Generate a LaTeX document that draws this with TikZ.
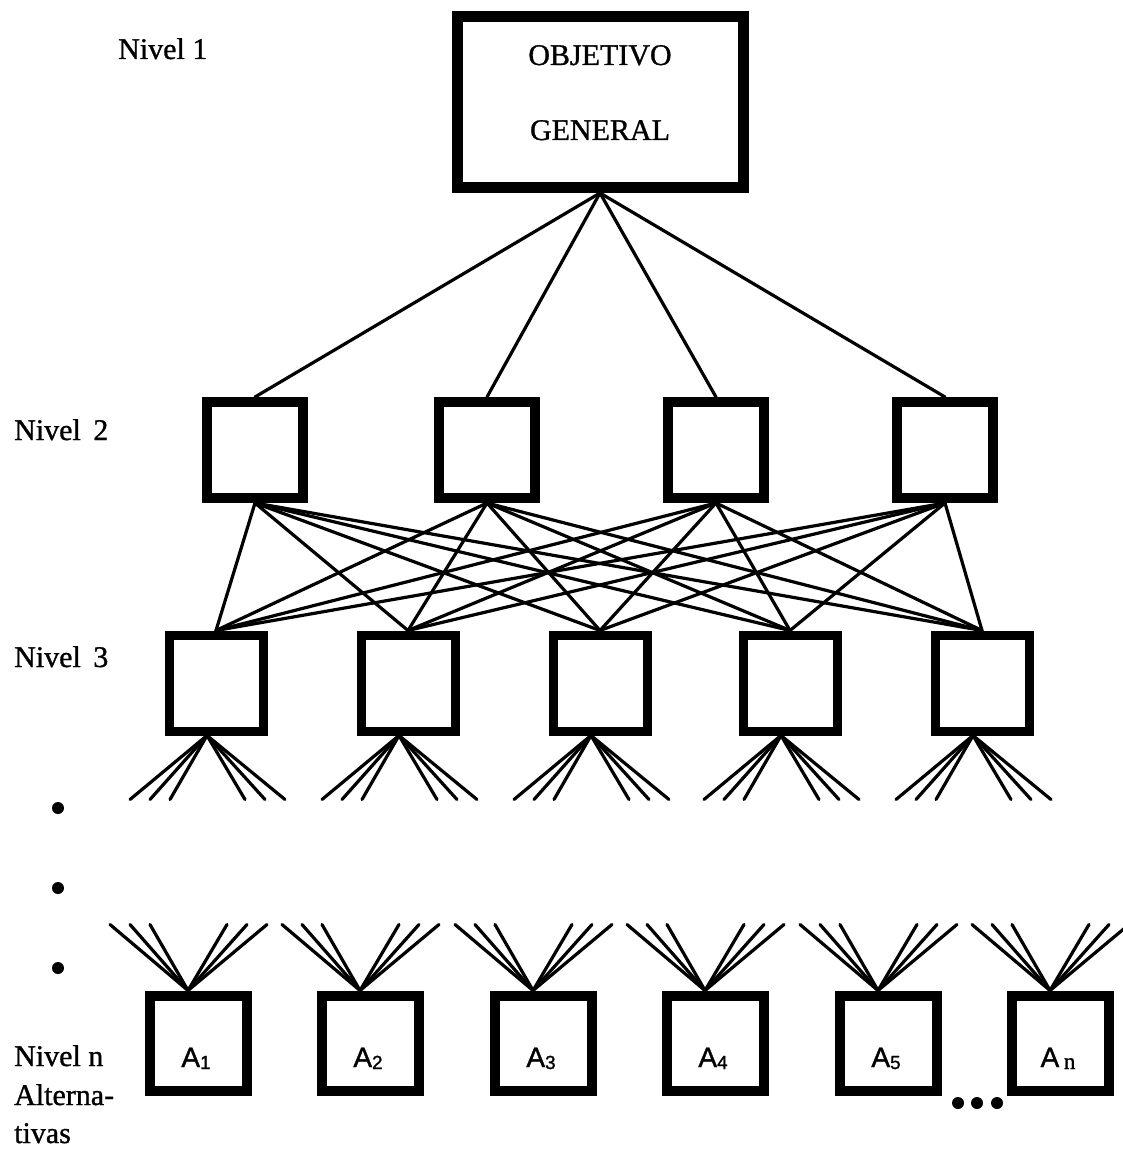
\documentclass[tikz,border=0pt]{standalone}
\usepackage{fontspec}
\setmainfont{Liberation Serif}
\newfontfamily\scanfont[FakeBold=1]{Liberation Serif}
\newfontfamily\altfont[FakeBold=1.2]{Liberation Sans}
\usetikzlibrary{backgrounds}
\newcommand\subnum[1]{\raisebox{-2pt}{\fontsize{19}{19}\selectfont #1}}
\begin{document}
\begin{tikzpicture}[x=1pt,y=-1pt,
  box/.style={draw, line width=10pt, fill=white, inner sep=0pt, minimum width=96pt, minimum height=96pt},
  link/.style={line width=3.2pt, line cap=round},
  lbl/.style={anchor=base west, inner sep=0pt, font=\scanfont\fontsize{30}{30}\selectfont},
  title/.style={anchor=base, inner sep=0pt, font=\scanfont\fontsize{30}{30}\selectfont},
  alt/.style={anchor=base, inner sep=0pt, font=\altfont\fontsize{28}{28}\selectfont},
  dot/.style={circle, fill=black, inner sep=0pt, minimum size=12pt}]
\useasboundingbox (0,0) rectangle (1123,1150);
% top box
\node[box, minimum width=286pt, minimum height=171pt, line width=11pt] (obj) at (600,102) {};
\node[title] (t1) at (600,65) {OBJETIVO};
\node[title] (t2) at (600,140) {GENERAL};
% level 2
\foreach \i/\x in {1/255,2/487,3/716,4/945}
  \node[box] (n2\i) at (\x,450) {};
% level 3
\foreach \i/\x in {1/216,2/408,3/600,4/790,5/982}
  \node[box, minimum width=94pt, minimum height=96pt, line width=9pt] (n3\i) at (\x,683) {};
% alternatives
\foreach \i/\x in {1/198,2/370,3/543,4/715,5/888,6/1060}
  \node[box, minimum width=97pt, minimum height=95pt] (A\i) at (\x,1043) {};
\node[alt] (a1) at (196,1067) {A\subnum{1}};
\node[alt] (a2) at (368,1067) {A\subnum{2}};
\node[alt] (a3) at (541,1067) {A\subnum{3}};
\node[alt] (a4) at (713,1067) {A\subnum{4}};
\node[alt] (a5) at (886,1067) {A\subnum{5}};
\node[alt] (a6) at (1058,1067) {A\,\raisebox{-2pt}{\scanfont\fontsize{23}{23}\selectfont n}};
% connectors
\begin{scope}[on background layer]
  \foreach \i in {1,...,4}
    \draw[link] (obj.south) -- (n2\i.north);
  \foreach \i in {1,...,4}
    \foreach \j in {1,...,5}
      \draw[link] (n2\i.south) -- (n3\j.north);
  \foreach \i in {1,...,5}
    \foreach \d in {-77,-57,-37,38,58,78}
      \draw[link] ([xshift=-9pt]n3\i.south) -- ++(\d,64);
  \foreach \i in {1,...,6}
    \foreach \d in {-78,-58,-38,39,59,79}
      \draw[link] ([xshift=-10pt]A\i.north) -- ++(\d,-66);
\end{scope}
% labels
\node[lbl] (l1) at (118,59) {Nivel 1};
\node[lbl] (l2) at (14,440) {Nivel\, 2};
\node[lbl] (l3) at (14,667) {Nivel\, 3};
\node[lbl] (ln) at (14,1066) {Nivel n};
\node[lbl] (la) at (14,1105) {Alterna-};
\node[lbl] (lt) at (14,1143) {tivas};
% dots
\node[dot] (d1) at (58,808) {};
\node[dot] (d2) at (58,888) {};
\node[dot] (d3) at (58,968) {};
\node[dot] (e1) at (958,1103) {};
\node[dot] (e2) at (977,1103) {};
\node[dot] (e3) at (997,1103) {};
\end{tikzpicture}
\end{document}
